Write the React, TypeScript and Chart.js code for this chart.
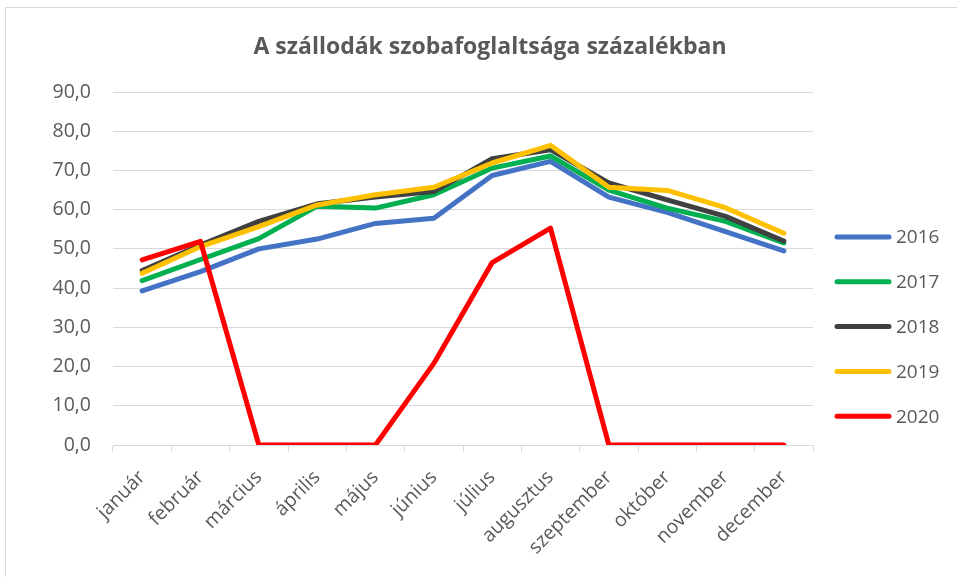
import React, { useEffect, useRef } from "react";
import { Chart, registerables } from "chart.js";

Chart.register(...registerables);

const TITLE = "A szállodák szobafoglaltsága százalékban";
const months = ["január", "február", "március", "április", "május", "június", "július", "augusztus", "szeptember", "október", "november", "december"];
const years = ["2016", "2017", "2018", "2019", "2020"];
const colors = ["#4472C4", "#00B050", "#404040", "#FFC000", "#FF0000"];
const v2016 = [39.3, 44.2, 50.0, 52.5, 56.5, 57.8, 68.7, 72.3, 63.2, 59.3, 54.4, 49.5];
const v2017 = [41.9, 47.3, 52.6, 60.9, 60.4, 63.8, 70.6, 73.7, 65.0, 60.4, 57.0, 51.5];
const v2018 = [44.5, 51.0, 57.0, 61.5, 63.2, 64.6, 73.0, 75.3, 66.8, 62.5, 58.3, 52.0];
const v2019 = [43.8, 50.6, 55.7, 61.2, 63.8, 65.7, 71.9, 76.4, 65.7, 64.9, 60.5, 54.0];
const v2020 = [47.2, 51.9, 0, 0, 0, 20.8, 46.5, 55.3, 0, 0, 0, 0];
const series = [v2016, v2017, v2018, v2019, v2020];
const yMin = 0;
const yMax = 90;
const yStep = 10;

const FONT = "'Open Sans', 'Liberation Sans', sans-serif";
const TEXT = "#595959";

const framePlugin = {
  id: "frame",
  beforeDraw(chart: any) {
    const ctx = chart.ctx;
    ctx.save();
    ctx.fillStyle = "#ffffff";
    ctx.fillRect(0, 0, chart.width, chart.height);
    ctx.strokeStyle = "#d9d9d9";
    ctx.lineWidth = 1;
    ctx.strokeRect(5.5, 7.5, chart.width + 10, chart.height + 10);
    ctx.restore();
  },
};

const titlePlugin = {
  id: "customTitle",
  afterDraw(chart: any) {
    const ctx = chart.ctx;
    ctx.save();
    ctx.fillStyle = TEXT;
    ctx.font = `bold 23px ${FONT}`;
    ctx.textAlign = "center";
    ctx.textBaseline = "middle";
    ctx.fillText(TITLE, 490, 47);
    ctx.restore();
  },
};

const legendPlugin = {
  id: "customLegend",
  afterDraw(chart: any) {
    const ctx = chart.ctx;
    ctx.save();
    chart.data.datasets.forEach((ds: any, i: number) => {
      const y = 237 + i * 44.8;
      ctx.strokeStyle = ds.borderColor;
      ctx.lineWidth = 5;
      ctx.lineCap = "round";
      ctx.beginPath();
      ctx.moveTo(837, y);
      ctx.lineTo(889, y);
      ctx.stroke();
      ctx.fillStyle = TEXT;
      ctx.font = `19px ${FONT}`;
      ctx.textBaseline = "middle";
      ctx.textAlign = "left";
      ctx.fillText(ds.label, 896, y + 1);
    });
    ctx.restore();
  },
};

export default function App() {
  const ref = useRef<HTMLCanvasElement | null>(null);
  useEffect(() => {
    if (!ref.current) return;
    const chart = new Chart(ref.current, {
      type: "line",
      data: {
        labels: months,
        datasets: years.map((y, i) => ({
          label: y,
          data: series[i],
          borderColor: colors[i],
          backgroundColor: colors[i],
          borderWidth: 5,
          borderCapStyle: "round",
          borderJoinStyle: "round",
          pointRadius: 0,
          tension: 0,
          order: years.length - i,
        })),
      } as any,
      options: {
        responsive: false,
        animation: false,
        layout: { padding: { top: 92, left: 0, right: 144, bottom: 0 } },
        plugins: {
          legend: { display: false },
          tooltip: { enabled: false },
          title: { display: false },
        },
        scales: {
          x: {
            offset: true,
            grid: { display: true, drawOnChartArea: false, offset: true, color: "#d9d9d9", tickLength: 7 },
            border: { display: true, color: "#d9d9d9" },
            ticks: {
              color: TEXT,
              font: { family: FONT, size: 19.5 },
              maxRotation: 45,
              minRotation: 45,
              autoSkip: false,
              padding: 14,
            },
            afterFit: (s: any) => { s.height = 132; },
          },
          y: {
            min: yMin,
            max: yMax,
            grid: { color: "#d9d9d9", drawTicks: false },
            border: { display: false },
            ticks: {
              stepSize: yStep,
              color: TEXT,
              font: { family: FONT, size: 19.5 },
              padding: 22,
              callback: (v: any) => Number(v).toFixed(1).replace(".", ","),
            },
            afterFit: (s: any) => { s.width = 113; },
          },
        },
      },
      plugins: [framePlugin, titlePlugin, legendPlugin],
    } as any);
    return () => chart.destroy();
  }, []);
  return (
    <div style={{ position: "fixed", left: 0, top: 0, width: 957, height: 577 }}>
      <canvas ref={ref} width={957} height={577} style={{ display: "block" }} />
    </div>
  );
}
